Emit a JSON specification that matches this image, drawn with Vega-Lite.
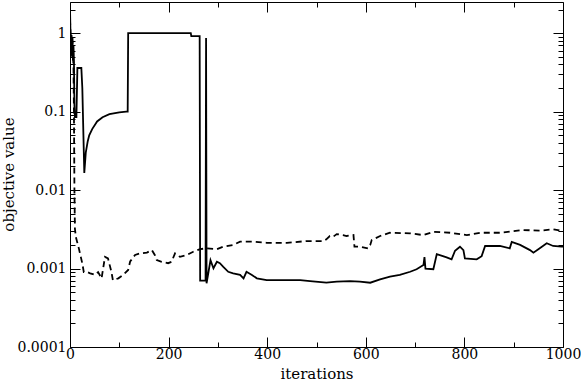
{
  "$schema": "https://vega.github.io/schema/vega-lite/v6.json",
  "width": 493,
  "height": 345,
  "autosize": {"type": "none"},
  "padding": {"left": 70, "top": 2, "right": 18, "bottom": 35},
  "background": "white",
  "config": {
    "view": {"stroke": "black", "strokeWidth": 1},
    "axis": {
      "labelFont": "DejaVu Serif",
      "titleFont": "DejaVu Serif",
      "labelFontSize": 14,
      "titleFontSize": 15,
      "titleFontWeight": "normal",
      "labelColor": "black",
      "titleColor": "black",
      "tickColor": "black",
      "domain": false,
      "grid": false,
      "labelFlush": false,
      "labelOverlap": false
    }
  },
  "datasets": {
    "solid": [
      {"it": 0, "v": 2.1}, {"it": 1, "v": 1.0}, {"it": 2, "v": 0.6}, {"it": 3, "v": 0.9}, {"it": 4, "v": 0.5},
      {"it": 5, "v": 0.8}, {"it": 6, "v": 0.45}, {"it": 7, "v": 0.7}, {"it": 8, "v": 0.45}, {"it": 9, "v": 0.12},
      {"it": 10, "v": 0.085}, {"it": 13, "v": 0.085}, {"it": 15, "v": 0.36}, {"it": 23, "v": 0.36}, {"it": 25, "v": 0.2},
      {"it": 29, "v": 0.0165}, {"it": 32, "v": 0.03}, {"it": 36, "v": 0.042}, {"it": 39, "v": 0.05}, {"it": 45, "v": 0.06},
      {"it": 55, "v": 0.075}, {"it": 66, "v": 0.085}, {"it": 80, "v": 0.093}, {"it": 100, "v": 0.098}, {"it": 114, "v": 0.1},
      {"it": 117, "v": 0.1}, {"it": 118, "v": 1.0}, {"it": 245, "v": 1.0}, {"it": 246, "v": 0.92}, {"it": 263, "v": 0.92},
      {"it": 264, "v": 0.0007}, {"it": 275, "v": 0.0007}, {"it": 276, "v": 0.87}, {"it": 277, "v": 0.00065},
      {"it": 281, "v": 0.00091}, {"it": 285, "v": 0.00128}, {"it": 291, "v": 0.00101}, {"it": 298, "v": 0.00122},
      {"it": 304, "v": 0.00117}, {"it": 311, "v": 0.00105}, {"it": 321, "v": 0.00091}, {"it": 331, "v": 0.00087},
      {"it": 345, "v": 0.00083}, {"it": 352, "v": 0.00075}, {"it": 358, "v": 0.00091}, {"it": 369, "v": 0.00083},
      {"it": 379, "v": 0.00075}, {"it": 399, "v": 0.00071}, {"it": 419, "v": 0.00071}, {"it": 453, "v": 0.00071},
      {"it": 467, "v": 0.00071}, {"it": 487, "v": 0.00069}, {"it": 520, "v": 0.00066}, {"it": 541, "v": 0.00068},
      {"it": 568, "v": 0.00069}, {"it": 588, "v": 0.00068}, {"it": 609, "v": 0.00066}, {"it": 629, "v": 0.00073},
      {"it": 649, "v": 0.00079}, {"it": 669, "v": 0.00083}, {"it": 690, "v": 0.00091}, {"it": 703, "v": 0.00098},
      {"it": 717, "v": 0.00111}, {"it": 719, "v": 0.0014}, {"it": 721, "v": 0.001}, {"it": 737, "v": 0.00098},
      {"it": 744, "v": 0.00153}, {"it": 764, "v": 0.00139}, {"it": 774, "v": 0.00131}, {"it": 781, "v": 0.00169},
      {"it": 791, "v": 0.0019}, {"it": 798, "v": 0.00172}, {"it": 801, "v": 0.00135}, {"it": 825, "v": 0.00131},
      {"it": 835, "v": 0.00144}, {"it": 842, "v": 0.00194}, {"it": 872, "v": 0.00194}, {"it": 892, "v": 0.00181},
      {"it": 896, "v": 0.00218}, {"it": 913, "v": 0.002}, {"it": 933, "v": 0.00172}, {"it": 940, "v": 0.00159},
      {"it": 950, "v": 0.00176}, {"it": 967, "v": 0.0021}, {"it": 980, "v": 0.00194}, {"it": 997, "v": 0.0019},
      {"it": 1000, "v": 0.0019}
    ],
    "dashed": [
      {"it": 0, "v": 1.5}, {"it": 2, "v": 0.7}, {"it": 3, "v": 1.0}, {"it": 4, "v": 0.6}, {"it": 5, "v": 0.9},
      {"it": 6, "v": 0.5}, {"it": 7, "v": 0.4}, {"it": 8, "v": 0.1}, {"it": 9, "v": 0.01}, {"it": 10, "v": 0.0032},
      {"it": 12, "v": 0.0025}, {"it": 18, "v": 0.0018}, {"it": 22, "v": 0.0014}, {"it": 25, "v": 0.00116},
      {"it": 28, "v": 0.0009}, {"it": 35, "v": 0.0009}, {"it": 41, "v": 0.00087}, {"it": 51, "v": 0.00083},
      {"it": 57, "v": 0.0009}, {"it": 64, "v": 0.00075}, {"it": 71, "v": 0.00141}, {"it": 77, "v": 0.00135},
      {"it": 84, "v": 0.00091}, {"it": 87, "v": 0.00071}, {"it": 98, "v": 0.00075}, {"it": 108, "v": 0.00083},
      {"it": 118, "v": 0.00096}, {"it": 122, "v": 0.00123}, {"it": 132, "v": 0.00149}, {"it": 142, "v": 0.00156},
      {"it": 156, "v": 0.0016}, {"it": 166, "v": 0.00172}, {"it": 172, "v": 0.00149}, {"it": 176, "v": 0.00128},
      {"it": 186, "v": 0.00122}, {"it": 199, "v": 0.00117}, {"it": 206, "v": 0.00122}, {"it": 213, "v": 0.00156},
      {"it": 223, "v": 0.00141}, {"it": 237, "v": 0.00149}, {"it": 250, "v": 0.00164}, {"it": 264, "v": 0.00177},
      {"it": 277, "v": 0.00181}, {"it": 298, "v": 0.00177}, {"it": 311, "v": 0.0019}, {"it": 331, "v": 0.002},
      {"it": 345, "v": 0.0022}, {"it": 372, "v": 0.0022}, {"it": 399, "v": 0.00213}, {"it": 440, "v": 0.00213},
      {"it": 480, "v": 0.00224}, {"it": 514, "v": 0.00224}, {"it": 520, "v": 0.00236}, {"it": 527, "v": 0.0026},
      {"it": 534, "v": 0.00255}, {"it": 541, "v": 0.00275}, {"it": 554, "v": 0.00267}, {"it": 561, "v": 0.0026},
      {"it": 575, "v": 0.00267}, {"it": 577, "v": 0.0019}, {"it": 588, "v": 0.0019}, {"it": 605, "v": 0.00181},
      {"it": 609, "v": 0.002}, {"it": 612, "v": 0.00231}, {"it": 629, "v": 0.0026}, {"it": 649, "v": 0.00286},
      {"it": 690, "v": 0.00281}, {"it": 717, "v": 0.00267}, {"it": 737, "v": 0.00294}, {"it": 771, "v": 0.00286},
      {"it": 805, "v": 0.00267}, {"it": 832, "v": 0.00286}, {"it": 872, "v": 0.00286}, {"it": 919, "v": 0.0031},
      {"it": 953, "v": 0.00304}, {"it": 980, "v": 0.00316}, {"it": 1000, "v": 0.003}
    ]
  },
  "layer": [
    {
      "data": {"name": "solid"},
      "mark": {"type": "line", "color": "black", "strokeWidth": 1.8, "clip": true},
      "encoding": {
        "x": {"field": "it", "type": "quantitative",
          "scale": {"domain": [0, 1000], "nice": false, "zero": false},
          "axis": {"orient": "bottom", "values": [0, 200, 400, 600, 800, 1000], "format": "d", "tickSize": -10, "labelPadding": 10, "title": "iterations", "titleBaseline": "alphabetic", "titleY": 31}},
        "y": {"field": "v", "type": "quantitative",
          "scale": {"type": "log", "domain": [0.0001, 2.5], "nice": false},
          "axis": {"orient": "left", "values": [0.0001, 0.001, 0.01, 0.1, 1], "format": "~g", "tickSize": -10, "labelPadding": 14, "title": "objective value", "titleBaseline": "alphabetic", "titleX": -57, "titleY": 172}}
      }
    },
    {
      "data": {"name": "dashed"},
      "mark": {"type": "line", "color": "black", "strokeWidth": 1.8, "strokeDash": [6, 4], "clip": true},
      "encoding": {
        "x": {"field": "it", "type": "quantitative",
          "axis": {"orient": "bottom", "values": [100, 300, 500, 700, 900], "tickSize": -5, "labels": false, "title": null}},
        "y": {"field": "v", "type": "quantitative",
          "axis": {"orient": "left", "values": [0.0002, 0.0003, 0.0004, 0.0005, 0.0006, 0.0007, 0.0008, 0.0009, 0.002, 0.003, 0.004, 0.005, 0.006, 0.007, 0.008, 0.009, 0.02, 0.03, 0.04, 0.05, 0.06, 0.07, 0.08, 0.09, 0.2, 0.3, 0.4, 0.5, 0.6, 0.7, 0.8, 0.9, 2], "tickSize": -5, "labels": false, "title": null}}
      }
    },
    {
      "data": {"name": "solid"},
      "mark": {"type": "line", "strokeOpacity": 0},
      "encoding": {
        "x": {"field": "it", "type": "quantitative",
          "axis": {"orient": "top", "values": [0, 200, 400, 600, 800, 1000], "tickSize": -10, "labels": false, "title": null}},
        "y": {"field": "v", "type": "quantitative",
          "axis": {"orient": "right", "values": [0.0001, 0.001, 0.01, 0.1, 1], "tickSize": -10, "labels": false, "title": null}}
      }
    },
    {
      "data": {"name": "solid"},
      "mark": {"type": "line", "strokeOpacity": 0},
      "encoding": {
        "x": {"field": "it", "type": "quantitative",
          "axis": {"orient": "top", "values": [100, 300, 500, 700, 900], "tickSize": -5, "labels": false, "title": null}},
        "y": {"field": "v", "type": "quantitative",
          "axis": {"orient": "right", "values": [0.0002, 0.0003, 0.0004, 0.0005, 0.0006, 0.0007, 0.0008, 0.0009, 0.002, 0.003, 0.004, 0.005, 0.006, 0.007, 0.008, 0.009, 0.02, 0.03, 0.04, 0.05, 0.06, 0.07, 0.08, 0.09, 0.2, 0.3, 0.4, 0.5, 0.6, 0.7, 0.8, 0.9, 2], "tickSize": -5, "labels": false, "title": null}}
      }
    }
  ],
  "resolve": {"axis": {"x": "independent", "y": "independent"}}
}
